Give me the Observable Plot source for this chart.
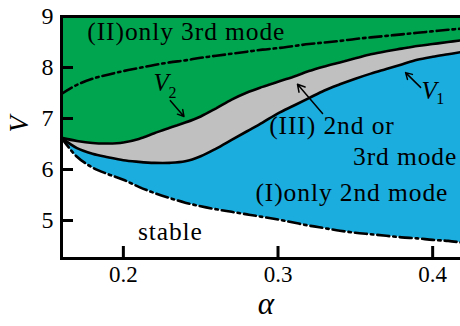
<!DOCTYPE html>
<html><head><meta charset="utf-8">
<script src="https://cdn.jsdelivr.net/npm/d3@7"></script>
<script src="https://cdn.jsdelivr.net/npm/@observablehq/plot@0.6"></script>
<style>body{margin:0;background:#fff} .lbl text, text.lbl{letter-spacing:0.9px}</style>
</head><body><div id="chart"></div>
<script>
const alpha = [0.16,0.17,0.18,0.19,0.20,0.21,0.22,0.23,0.24,0.25,0.26,0.27,0.28,0.29,0.30,0.31,0.32,0.33,0.34,0.35,0.36,0.37,0.38,0.39,0.40,0.41,0.418];
const V1 = [6.62,6.42,6.31,6.24,6.18,6.15,6.13,6.13,6.16,6.26,6.41,6.58,6.75,6.92,7.10,7.25,7.40,7.55,7.67,7.78,7.88,7.97,8.06,8.15,8.21,8.26,8.30];
const V2 = [6.62,6.56,6.52,6.51,6.53,6.60,6.71,6.82,6.92,7.04,7.20,7.37,7.51,7.62,7.72,7.82,7.93,8.02,8.10,8.18,8.26,8.32,8.37,8.42,8.46,8.50,8.53];
const Vlow = [6.62,6.25,6.04,5.91,5.80,5.66,5.54,5.44,5.35,5.28,5.22,5.17,5.12,5.07,5.02,4.96,4.90,4.85,4.80,4.76,4.73,4.70,4.67,4.65,4.62,4.60,4.57];
const Vup = [7.48,7.66,7.78,7.86,7.93,7.99,8.05,8.10,8.14,8.19,8.23,8.27,8.31,8.35,8.38,8.42,8.46,8.49,8.52,8.56,8.59,8.62,8.65,8.68,8.71,8.74,8.76];
const xTicks = [0.2, 0.3, 0.4];
const yTicks = [5, 6, 7, 8, 9];
const table = alpha.map((a, i) => ({a, v1: V1[i], v2: V2[i], lo: Vlow[i], up: Vup[i]}));

const font = "'Liberation Serif', 'Times New Roman', serif";
const green = "#00a64f", blue = "#1badde", grey = "#c0c0c0";
const dashdot = "12,4,2.5,4";
const lblSize = 25.5;

const chart = Plot.plot({
  width: 460, height: 326,
  marginLeft: 61, marginRight: 0, marginTop: 16, marginBottom: 68,
  x: {domain: [0.16, 0.418]},
  y: {domain: [4.255, 9]},
  style: {fontFamily: font, background: "#fff", color: "#000"},
  marks: [
    Plot.areaY(table, {x: "a", y1: "v2", y2: 9, fill: green, curve: "catmull-rom"}),
    Plot.areaY(table, {x: "a", y1: "v1", y2: "v2", fill: grey, curve: "catmull-rom"}),
    Plot.areaY(table, {x: "a", y1: "lo", y2: "v1", fill: blue, curve: "catmull-rom"}),
    Plot.line(table, {x: "a", y: "v1", stroke: "#000", strokeWidth: 2.6, curve: "catmull-rom"}),
    Plot.line(table, {x: "a", y: "v2", stroke: "#000", strokeWidth: 2.6, curve: "catmull-rom"}),
    Plot.line(table, {x: "a", y: "lo", stroke: "#000", strokeWidth: 2.6, strokeDasharray: dashdot, curve: "catmull-rom"}),
    Plot.line(table, {x: "a", y: "up", stroke: "#000", strokeWidth: 2.6, strokeDasharray: dashdot, curve: "catmull-rom"}),
    Plot.frame({anchor: "top", strokeWidth: 3}),
    Plot.frame({anchor: "bottom", strokeWidth: 3}),
    Plot.frame({anchor: "left", strokeWidth: 3}),
    Plot.axisY(yTicks, {tickSize: 12, dx: 12, fill: "none", strokeWidth: 3}),
    Plot.axisX(xTicks, {tickSize: 12, dy: -12, fill: "none", strokeWidth: 3}),
    Plot.axisY(yTicks, {tickSize: 0, tickPadding: 8, fontSize: 24, label: null, tickFormat: d3.format("d")}),
    Plot.axisX(xTicks, {tickSize: 0, tickPadding: 7, fontSize: 23, label: null, tickFormat: d3.format(".1f")}),
    Plot.text(["V"], {frameAnchor: "left", dx: -42, dy: -5, rotate: -90, fontSize: 27, fontStyle: "italic"}),
    Plot.text(["α"], {frameAnchor: "bottom", dx: 5, dy: 55, fontSize: 31, fontStyle: "italic"}),
    Plot.text(["(II)only 3rd mode"], {x: 0.1767, y: 8.706, textAnchor: "start", fontSize: lblSize, className: "lbl"}),
    Plot.text(["(III) 2nd or"], {x: 0.2943, y: 6.86, textAnchor: "start", fontSize: lblSize, className: "lbl"}),
    Plot.text(["3rd mode"], {x: 0.3485, y: 6.255, textAnchor: "start", fontSize: lblSize, className: "lbl"}),
    Plot.text(["(I)only 2nd mode"], {x: 0.2854, y: 5.55, textAnchor: "start", fontSize: lblSize, className: "lbl"}),
    Plot.text(["stable"], {x: 0.2304, y: 4.784, fontSize: lblSize, className: "lbl"}),
    Plot.text(["V"], {x: 0.2245, y: 7.69, fontSize: 25, fontStyle: "italic"}),
    Plot.text(["2"], {x: 0.2317, y: 7.51, fontSize: 16}),
    Plot.text(["V"], {x: 0.3977, y: 7.53, fontSize: 25, fontStyle: "italic"}),
    Plot.text(["1"], {x: 0.4049, y: 7.39, fontSize: 16}),
    Plot.arrow([0], {x1: 0.2304, y1: 7.35, x2: 0.2392, y2: 7.04, stroke: "#000", strokeWidth: 1.5, headLength: 8}),
    Plot.arrow([0], {x1: 0.3922, y1: 7.61, x2: 0.3825, y2: 7.90, stroke: "#000", strokeWidth: 1.5, headLength: 8}),
    Plot.arrow([0], {x1: 0.3288, y1: 7.10, x2: 0.3126, y2: 7.67, stroke: "#000", strokeWidth: 1.5, headLength: 8})
  ]
});
document.getElementById("chart").appendChild(chart);
</script>
</body></html>
